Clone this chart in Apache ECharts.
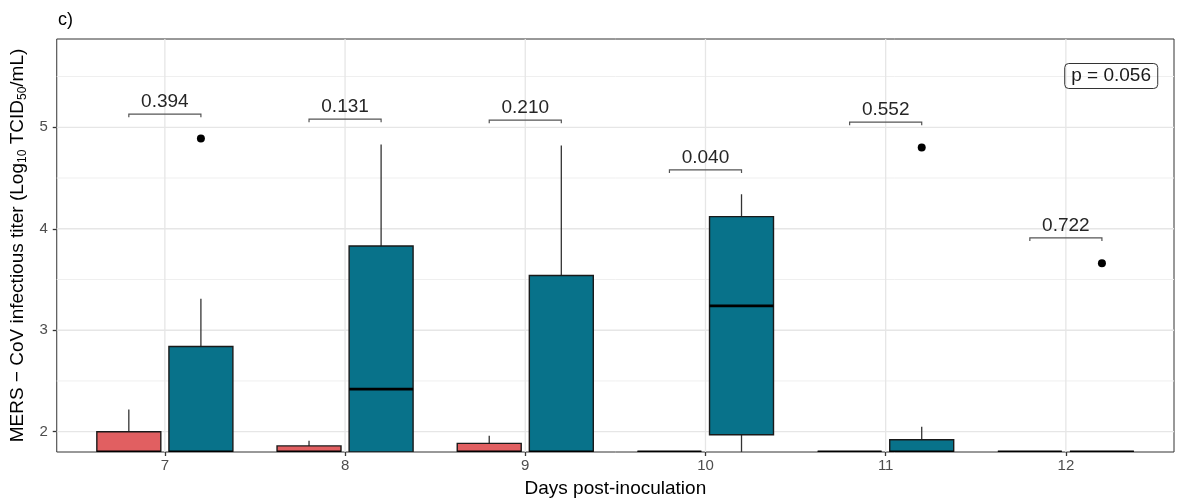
<!DOCTYPE html>
<html>
<head>
<meta charset="utf-8">
<title>MERS-CoV infectious titer</title>
<script src="https://cdn.jsdelivr.net/npm/echarts@6/dist/echarts.min.js"></script>
<style>
  html, body { margin: 0; padding: 0; background: #ffffff; }
  #chart { width: 1181px; height: 503px; }
</style>
</head>
<body>
<div id="chart"></div>
<script>
// Sampling days after inoculation
const days = [7, 8, 9, 10, 11, 12];

// Group A box statistics per day (log10 TCID50/mL)
const groupALow    = [1.8, 1.8, 1.8, 1.8, 1.8, 1.8];
const groupAQ1     = [1.8, 1.8, 1.8, 1.8, 1.8, 1.8];
const groupAMedian = [1.8, 1.8, 1.8, 1.8, 1.8, 1.8];
const groupAQ3     = [2.0, 1.86, 1.885, 1.8, 1.8, 1.8];
const groupAHigh   = [2.22, 1.91, 1.96, 1.8, 1.8, 1.8];

// Group B box statistics per day (log10 TCID50/mL)
const groupBLow    = [1.8, 1.8, 1.8, 1.8, 1.8, 1.8];
const groupBQ1     = [1.8, 1.8, 1.8, 1.97, 1.8, 1.8];
const groupBMedian = [1.8, 2.42, 1.8, 3.24, 1.8, 1.8];
const groupBQ3     = [2.84, 3.83, 3.54, 4.12, 1.92, 1.8];
const groupBHigh   = [3.31, 4.83, 4.82, 4.34, 2.05, 1.8];

// Outlying observations of group B
const outlierDays   = [7, 11, 12];
const outlierValues = [4.89, 4.80, 3.66];

// Pairwise comparisons per day: bracket height and p value
const bracketHeights = [5.13, 5.08, 5.07, 4.58, 5.05, 3.91];
const pairwiseP = ['0.394', '0.131', '0.210', '0.040', '0.552', '0.722'];
const overallP = 'p = 0.056';

// Axis ticks
const yTicks = [2, 3, 4, 5];
const yMinorTicks = [2.5, 3.5, 4.5, 5.5];

// Layout constants (axis units)
const DODGE = 0.2;
const BOX_W = 0.355;
const TIP = 0.03;

const FONT = '"Liberation Sans", Arial, Helvetica, sans-serif';
const COLOR_A = '#E15F61';
const COLOR_B = '#08728A';

function boxRenderer(fill, offset) {
  return function (params, api) {
    const x = api.value(0) + offset;
    const pLow = api.coord([x, api.value(1)]);
    const pQ1 = api.coord([x, api.value(2)]);
    const pMed = api.coord([x, api.value(3)]);
    const pQ3 = api.coord([x, api.value(4)]);
    const pHigh = api.coord([x, api.value(5)]);
    const left = api.coord([x - BOX_W / 2, api.value(2)])[0];
    const right = api.coord([x + BOX_W / 2, api.value(2)])[0];
    const whisker = { stroke: '#333333', lineWidth: 1.3 };
    return {
      type: 'group',
      children: [
        { type: 'line', shape: { x1: pLow[0], y1: pLow[1], x2: pQ1[0], y2: pQ1[1] }, style: whisker },
        { type: 'line', shape: { x1: pQ3[0], y1: pQ3[1], x2: pHigh[0], y2: pHigh[1] }, style: whisker },
        {
          type: 'rect',
          shape: { x: left, y: pQ3[1], width: right - left, height: pQ1[1] - pQ3[1] },
          style: { fill: fill, stroke: '#1a1a1a', lineWidth: 1.4 }
        },
        {
          type: 'line',
          shape: { x1: left, y1: pMed[1], x2: right, y2: pMed[1] },
          style: { stroke: '#000000', lineWidth: 2.8 }
        }
      ]
    };
  };
}

function bracketRenderer(params, api) {
  const d = api.value(0);
  const y = api.value(1);
  const l = api.coord([d - DODGE, y]);
  const r = api.coord([d + DODGE, y]);
  const tip = api.size([0, TIP])[1];
  return {
    type: 'group',
    children: [
      {
        type: 'polyline',
        shape: { points: [[l[0], l[1] + tip], [l[0], l[1]], [r[0], r[1]], [r[0], r[1] + tip]] },
        style: { stroke: '#555555', lineWidth: 1.2, fill: null }
      },
      {
        type: 'text',
        x: (l[0] + r[0]) / 2,
        y: l[1] - 3,
        style: {
          text: pairwiseP[params.dataIndex],
          fill: '#262626',
          font: '19px ' + FONT,
          align: 'center',
          verticalAlign: 'bottom',
          textAlign: 'center',
          textVerticalAlign: 'bottom'
        }
      }
    ]
  };
}

// Panel grid lines: horizontal at y values, vertical at the day positions
function hGridRenderer(style) {
  return function (params, api) {
    const cs = params.coordSys;
    const y = api.coord([6.4, api.value(0)])[1];
    return { type: 'line', shape: { x1: cs.x, y1: y, x2: cs.x + cs.width, y2: y }, style: style };
  };
}
function vGridRenderer(style) {
  return function (params, api) {
    const cs = params.coordSys;
    const x = api.coord([api.value(0), 2])[0];
    return { type: 'line', shape: { x1: x, y1: cs.y, x2: x, y2: cs.y + cs.height }, style: style };
  };
}
const majorLine = { stroke: '#e6e6e6', lineWidth: 1.3 };
const minorLine = { stroke: '#efefef', lineWidth: 1 };

const chart = echarts.init(document.getElementById('chart'), null, { renderer: 'canvas' });

chart.setOption({
  animation: false,
  backgroundColor: '#ffffff',
  textStyle: { fontFamily: FONT },
  title: [
    {
      text: 'c)',
      left: 53,
      top: 6,
      textStyle: { fontSize: 18, fontWeight: 'normal', color: '#000000', fontFamily: FONT }
    },
    {
      text: overallP,
      right: 23,
      top: 63,
      padding: [3, 7, 3, 7],
      borderColor: '#333333',
      borderWidth: 1,
      borderRadius: 4,
      textStyle: { fontSize: 19, fontWeight: 'normal', color: '#1a1a1a', lineHeight: 20, fontFamily: FONT }
    }
  ],
  grid: {
    left: 55,
    right: 7,
    top: 39,
    bottom: 51,
    show: true,
    borderColor: '#333333',
    borderWidth: 1,
    backgroundColor: '#ffffff'
  },
  xAxis: {
    type: 'value',
    min: 6.4,
    max: 12.6,
    axisLine: { show: false },
    axisTick: { show: true, customValues: days, length: 4, lineStyle: { color: '#333333', width: 1.3 } },
    axisLabel: { customValues: days, color: '#4d4d4d', fontSize: 15, margin: 6 },
    splitLine: { show: false },
    name: 'Days post-inoculation',
    nameLocation: 'middle',
    nameGap: 27,
    nameTextStyle: { fontSize: 19, color: '#000000' }
  },
  yAxis: {
    type: 'value',
    min: 1.8,
    max: 5.87,
    axisLine: { show: false },
    axisTick: { show: true, customValues: yTicks, length: 4, lineStyle: { color: '#333333', width: 1.3 } },
    axisLabel: { customValues: yTicks, color: '#4d4d4d', fontSize: 15, margin: 9 },
    splitLine: { show: false },
    name: 'MERS \u2212 CoV infectious titer (Log{sub|10} TCID{sub|50}/mL)',
    nameLocation: 'middle',
    nameRotate: 90,
    nameGap: 25,
    nameTextStyle: {
      fontSize: 19,
      color: '#000000',
      rich: {
        sub: { fontSize: 12, padding: [10, 0, 0, 0], color: '#000000' }
      }
    }
  },
  series: [
    {
      type: 'custom',
      z: 1,
      silent: true,
      clip: true,
      renderItem: hGridRenderer(minorLine),
      encode: { y: 0 },
      data: yMinorTicks.map(v => [v])
    },
    {
      type: 'custom',
      z: 1,
      silent: true,
      clip: true,
      renderItem: hGridRenderer(majorLine),
      encode: { y: 0 },
      data: yTicks.map(v => [v])
    },
    {
      type: 'custom',
      z: 1,
      silent: true,
      clip: true,
      renderItem: vGridRenderer(majorLine),
      encode: { x: 0 },
      data: days.map(d => [d])
    },
    {
      name: 'Group A',
      type: 'custom',
      z: 3,
      clip: true,
      renderItem: boxRenderer(COLOR_A, -DODGE),
      encode: { x: 0, y: [1, 2, 3, 4, 5] },
      data: days.map((d, i) => [d, groupALow[i], groupAQ1[i], groupAMedian[i], groupAQ3[i], groupAHigh[i]])
    },
    {
      name: 'Group B',
      type: 'custom',
      z: 3,
      clip: true,
      renderItem: boxRenderer(COLOR_B, DODGE),
      encode: { x: 0, y: [1, 2, 3, 4, 5] },
      data: days.map((d, i) => [d, groupBLow[i], groupBQ1[i], groupBMedian[i], groupBQ3[i], groupBHigh[i]])
    },
    {
      name: 'Group B outliers',
      type: 'scatter',
      z: 4,
      symbol: 'circle',
      symbolSize: 8,
      itemStyle: { color: '#000000', opacity: 1 },
      data: outlierDays.map((d, i) => [d + DODGE, outlierValues[i]])
    },
    {
      name: 'Comparisons',
      type: 'custom',
      z: 4,
      renderItem: bracketRenderer,
      encode: { x: 0, y: 1 },
      data: days.map((d, i) => [d, bracketHeights[i]])
    }
  ]
});
</script>
</body>
</html>
